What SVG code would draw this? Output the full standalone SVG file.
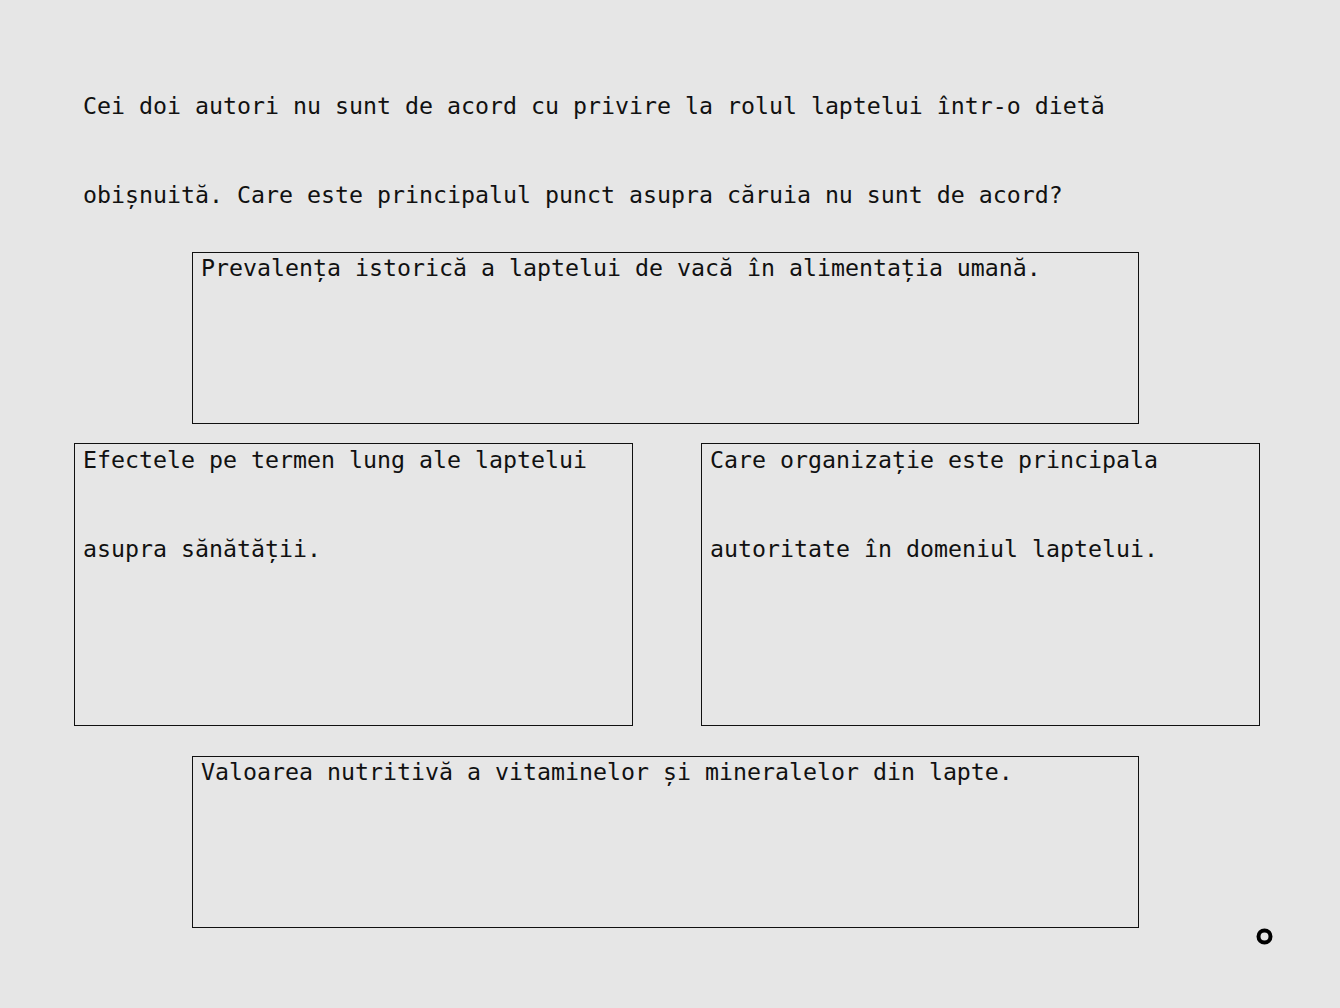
<svg xmlns="http://www.w3.org/2000/svg" width="1340" height="1008" viewBox="0 0 1340 1008">
<style>
.t{font-family:"DejaVu Sans Mono","Liberation Mono",monospace;font-size:23.25px;fill:#111}
.b{fill:none;stroke:#111;stroke-width:1}
</style>
<rect width="1340" height="1008" fill="#e6e6e6"/>
<g id="question">
<text class="t" x="83" y="114">Cei doi autori nu sunt de acord cu privire la rolul laptelui într-o dietă</text>
<text class="t" x="83" y="203">obișnuită. Care este principalul punct asupra căruia nu sunt de acord?</text>
</g>
<g id="optionA">
<rect class="b" x="192.5" y="252.5" width="946" height="171"/>
<text class="t" x="201" y="276">Prevalența istorică a laptelui de vacă în alimentația umană.</text>
</g>
<g id="optionB">
<rect class="b" x="74.5" y="443.5" width="558" height="282"/>
<text class="t" x="83" y="468">Efectele pe termen lung ale laptelui</text>
<text class="t" x="83" y="557">asupra sănătății.</text>
</g>
<g id="optionC">
<rect class="b" x="701.5" y="443.5" width="558" height="282"/>
<text class="t" x="710" y="468">Care organizație este principala</text>
<text class="t" x="710" y="557">autoritate în domeniul laptelui.</text>
</g>
<g id="optionD">
<rect class="b" x="192.5" y="756.5" width="946" height="171"/>
<text class="t" x="201" y="780">Valoarea nutritivă a vitaminelor și mineralelor din lapte.</text>
</g>
<g id="connectors"></g>
<g id="marker">
<circle cx="1264.5" cy="936.5" r="6" fill="none" stroke="#000" stroke-width="4"/>
</g>
</svg>
